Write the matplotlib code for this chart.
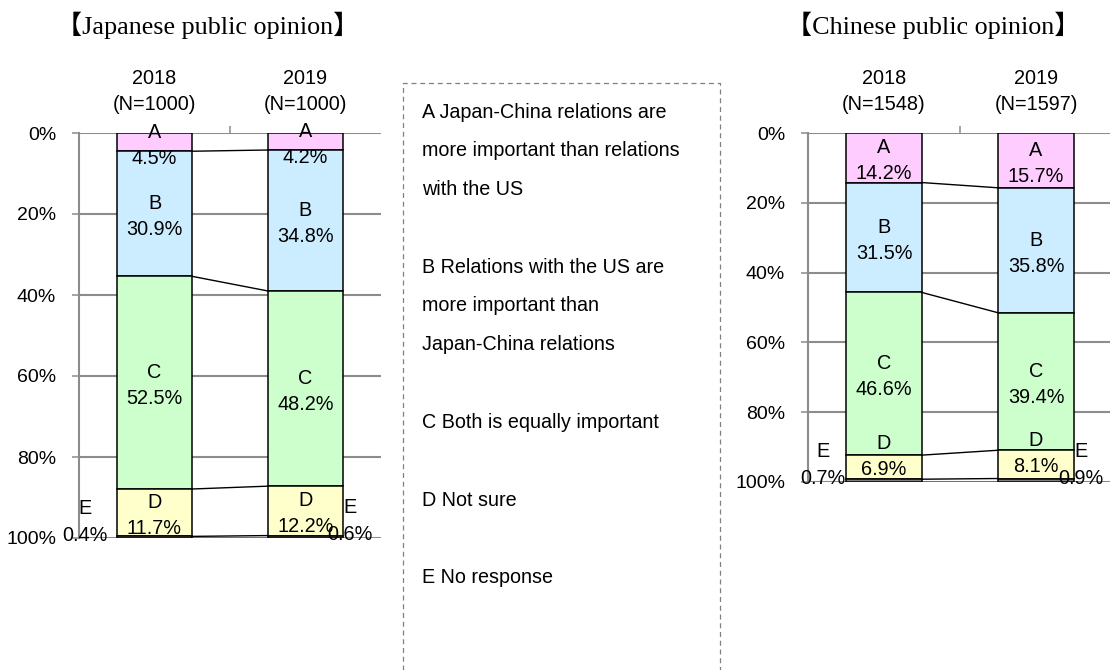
import matplotlib
matplotlib.use('Agg')
import matplotlib.pyplot as plt
from matplotlib.lines import Line2D
import numpy as np

# ---------------- data ----------------
categories = ['A', 'B', 'C', 'D', 'E']
years = ['2018', '2019']
jp_n = ['(N=1000)', '(N=1000)']
cn_n = ['(N=1548)', '(N=1597)']
jp_2018 = [4.5, 30.9, 52.5, 11.7, 0.4]
jp_2019 = [4.2, 34.8, 48.2, 12.2, 0.6]
cn_2018 = [14.2, 31.5, 46.6, 6.9, 0.7]
cn_2019 = [15.7, 35.8, 39.4, 8.1, 0.9]
y_ticks = [0, 20, 40, 60, 80, 100]
y_tick_labels = ['0%', '20%', '40%', '60%', '80%', '100%']
jp_title = '【Japanese public opinion】'
cn_title = '【Chinese public opinion】'
legend_lines = [
    'A Japan-China relations are',
    'more important than relations',
    'with the US',
    '',
    'B Relations with the US are',
    'more important than',
    'Japan-China relations',
    '',
    'C Both is equally important',
    '',
    'D Not sure',
    '',
    'E No response',
]
colors = ['#FFCCFF', '#CCECFF', '#CCFFCC', '#FFFFCC', '#7F7F7F']

# ---------------- style ----------------
W, H = 1110, 670
SANS = ['Liberation Sans', 'DejaVu Sans']
SERIF = ['Liberation Serif', 'Noto Sans CJK JP', 'DejaVu Serif']
FS = 14.3
TFS = 14
GRID = '#8c8c8c'
PX = 0.72  # points per pixel at dpi 100

fig = plt.figure(figsize=(W / 100, H / 100), dpi=100)


def fig_rect(x0, y0, x1, y1):
    return [x0 / W, 1 - y1 / H, (x1 - x0) / W, (y1 - y0) / H]


def panel(ax, d18, d19, nlabels, d_shift, e_left_dx):
    data = [d18, d19]
    x = np.arange(2)
    bw = 0.5
    cums = [np.concatenate([[0], np.cumsum(d)]) for d in data]
    for k in range(len(categories)):
        vals = [data[i][k] for i in range(2)]
        bots = [cums[i][k] for i in range(2)]
        ax.bar(x, vals, bottom=bots, width=bw, color=colors[k],
               edgecolor='black', linewidth=1.1, zorder=3)
    # series connector lines
    for k in range(1, len(categories) + 1):
        ax.plot([x[0] + bw / 2, x[1] - bw / 2], [cums[0][k], cums[1][k]],
                color='black', lw=1.0, zorder=4)
    # labels
    for i in range(2):
        for k, cat in enumerate(categories):
            v = data[i][k]
            c = cums[i][k] + v / 2
            txt = f'{v:.1f}%'
            if cat == 'E':
                if i == 0:
                    xx = x[i] - bw / 2
                    dx = e_left_dx
                else:
                    xx = x[i] + bw / 2
                    dx = 7
                up_l, up_v = 29, 2
            else:
                xx = x[i]
                dx = 0
                up_l, up_v = 10, -16
                if cat == 'D':
                    up_l += d_shift
                    up_v += d_shift
            ax.annotate(cat, xy=(xx, c), xytext=(dx * PX, up_l * PX),
                        textcoords='offset points', ha='center', va='center',
                        fontsize=FS, family=SANS, zorder=6)
            ax.annotate(txt, xy=(xx, c), xytext=(dx * PX, up_v * PX),
                        textcoords='offset points', ha='center', va='center',
                        fontsize=FS, family=SANS, zorder=6)
    # category headers
    for i in range(2):
        ax.annotate(years[i], xy=(x[i], 0), xytext=(0, 55 * PX),
                    textcoords='offset points', ha='center', va='center',
                    fontsize=FS, family=SANS, annotation_clip=False)
        ax.annotate(nlabels[i], xy=(x[i], 0), xytext=(0, 28 * PX),
                    textcoords='offset points', ha='center', va='center',
                    fontsize=FS, family=SANS, annotation_clip=False)
    ax.set_xlim(-0.5, 1.5)
    ax.set_ylim(100, 0)
    ax.set_yticks(y_ticks)
    ax.set_yticklabels(y_tick_labels, fontsize=TFS, family=SANS)
    ax.yaxis.grid(True, color=GRID, lw=1.5, zorder=0)
    ax.set_axisbelow(True)
    ax.xaxis.set_ticks_position('top')
    ax.set_xticks([0.5])
    ax.set_xticklabels([''])
    ax.tick_params(axis='x', direction='out', length=5, width=1.1, color=GRID)
    ax.tick_params(axis='y', direction='out', length=5, width=1.1, color=GRID,
                   pad=11.5)
    for s in ['top', 'right', 'bottom']:
        ax.spines[s].set_visible(False)
    ax.spines['left'].set_color(GRID)
    ax.spines['left'].set_linewidth(1.5)
    ax.patch.set_alpha(0)


ax1 = fig.add_axes(fig_rect(79, 133, 381, 538))
panel(ax1, jp_2018, jp_2019, jp_n, 0, -32)

ax2 = fig.add_axes(fig_rect(808, 133, 1112, 482))
panel(ax2, cn_2018, cn_2019, cn_n, 14, -23)

# titles
fig.text(208 / W, 1 - 25 / H, jp_title, ha='center', va='center',
         fontsize=18.8, family=SERIF)
fig.text(933 / W, 1 - 25 / H, cn_title, ha='center', va='center',
         fontsize=18.8, family=SERIF)

# legend text box
y0, step = 112, 38.8
for j, line in enumerate(legend_lines):
    if line:
        fig.text(422 / W, 1 - (y0 + j * step) / H, line, ha='left',
                 va='center', fontsize=14.2, family=SANS)
bx = [403 / W, 403 / W, 720 / W, 720 / W]
by = [0, 1 - 83 / H, 1 - 83 / H, 0]
fig.add_artist(Line2D(bx, by, transform=fig.transFigure, color='#808080',
                      lw=0.9, linestyle=(0, (4, 3))))

fig.savefig('out.png', dpi=100)
